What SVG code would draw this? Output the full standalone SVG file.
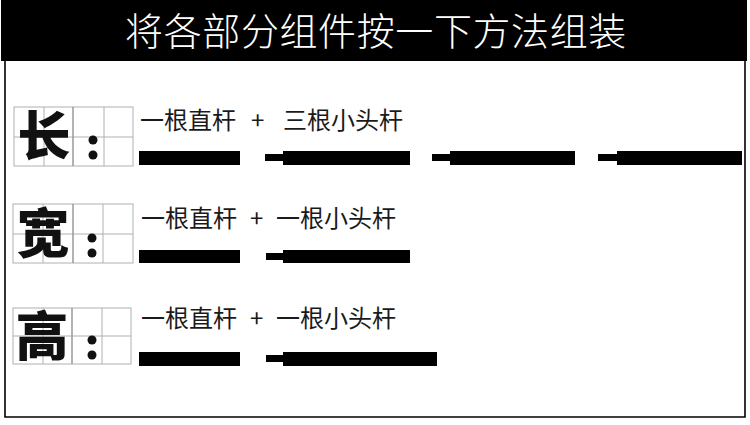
<svg xmlns="http://www.w3.org/2000/svg" width="750" height="425" viewBox="0 0 750 425">
<style>
.title{font-family:"Noto Sans CJK SC","Noto Sans",sans-serif;font-size:38px;font-weight:300;fill:#fff;text-anchor:middle;letter-spacing:0.6px}
.lbl{font-family:"Noto Sans CJK SC","Noto Sans",sans-serif;font-size:24px;fill:#1a1a1a}
.big{font-family:"Noto Sans CJK SC",sans-serif;font-size:53px;font-weight:900;fill:#111;text-anchor:middle}
.grid{fill:none;stroke:#b0b0b0;stroke-width:1}
.gridd{stroke:#999;stroke-width:1.5}
.bar{fill:#000}
</style>
<rect width="750" height="425" fill="#fff"/>
<rect x="1" y="0" width="746" height="61" fill="#000"/>
<text class="title" x="376" y="44.5">将各部分组件按一下方法组装</text>
<path d="M5 61 V417 H745 V61" fill="none" stroke="#000" stroke-width="1.6"/>

<g id="row-length">
  <rect class="grid" x="14" y="107" width="119" height="59"/>
  <line class="grid" x1="14" y1="137" x2="133" y2="137"/>
  <line class="grid" x1="44" y1="107" x2="44" y2="166"/>
  <line class="grid" x1="104" y1="107" x2="104" y2="166"/>
  <line class="gridd" x1="73" y1="107" x2="73" y2="166"/>
  <text class="big" x="44" y="156">长</text>
  <circle cx="93" cy="140" r="4.5" fill="#111"/>
  <circle cx="93" cy="155" r="4.5" fill="#111"/>
  <text class="lbl" x="140" y="129">一根直杆</text>
  <text class="lbl" x="251" y="129">+</text>
  <text class="lbl" x="283" y="129">三根小头杆</text>
  <rect class="bar" x="139" y="151" width="101" height="14"/>
  <rect class="bar" x="265" y="154" width="20" height="7"/>
  <rect class="bar" x="283" y="151" width="127" height="14"/>
  <rect class="bar" x="432" y="154" width="20" height="7"/>
  <rect class="bar" x="450" y="151" width="125" height="14"/>
  <rect class="bar" x="598" y="154" width="21" height="7"/>
  <rect class="bar" x="617" y="151" width="125" height="14"/>
</g>

<g id="row-width">
  <rect class="grid" x="13" y="204" width="120" height="59"/>
  <line class="grid" x1="13" y1="234" x2="133" y2="234"/>
  <line class="grid" x1="43" y1="204" x2="43" y2="263"/>
  <line class="grid" x1="103" y1="204" x2="103" y2="263"/>
  <line class="gridd" x1="73" y1="204" x2="73" y2="263"/>
  <text class="big" x="43" y="253">宽</text>
  <circle cx="92" cy="238" r="4.5" fill="#111"/>
  <circle cx="92" cy="253" r="4.5" fill="#111"/>
  <text class="lbl" x="141" y="227">一根直杆</text>
  <text class="lbl" x="250" y="227">+</text>
  <text class="lbl" x="276" y="227">一根小头杆</text>
  <rect class="bar" x="139" y="250" width="101" height="13"/>
  <rect class="bar" x="266" y="253" width="19" height="7"/>
  <rect class="bar" x="283" y="250" width="127" height="13"/>
</g>

<g id="row-height">
  <rect class="grid" x="13" y="308" width="118" height="56"/>
  <line class="grid" x1="13" y1="336" x2="131" y2="336"/>
  <line class="grid" x1="43" y1="308" x2="43" y2="364"/>
  <line class="grid" x1="102" y1="308" x2="102" y2="364"/>
  <line class="gridd" x1="72" y1="308" x2="72" y2="364"/>
  <text class="big" x="42" y="356">高</text>
  <circle cx="92" cy="340" r="4.5" fill="#111"/>
  <circle cx="92" cy="355" r="4.5" fill="#111"/>
  <text class="lbl" x="141" y="327">一根直杆</text>
  <text class="lbl" x="250" y="327">+</text>
  <text class="lbl" x="276" y="327">一根小头杆</text>
  <rect class="bar" x="139" y="352" width="101" height="14"/>
  <rect class="bar" x="266" y="355" width="19" height="7"/>
  <rect class="bar" x="283" y="352" width="154" height="14"/>
</g>
</svg>
